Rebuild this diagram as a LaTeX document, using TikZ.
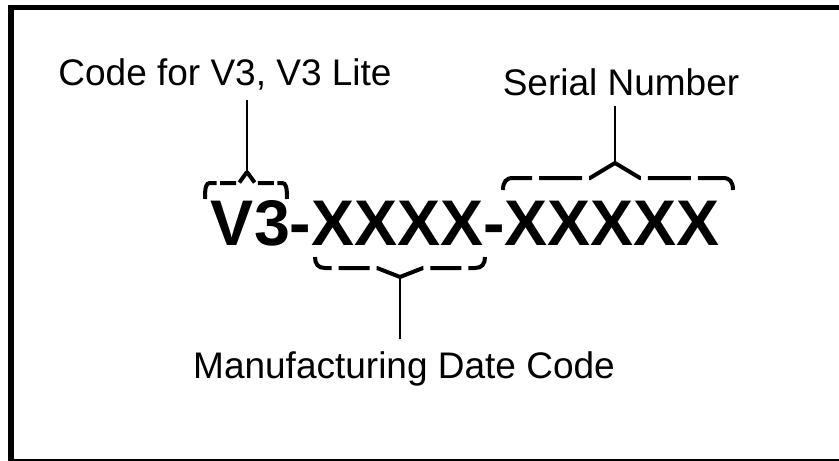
\documentclass[tikz,border=0pt]{standalone}
\usepackage{fontspec}
\newfontfamily\labelfont{Liberation Sans}
\tikzset{
  caption/.style={font=\labelfont\fontsize{37}{44}\selectfont, inner sep=0pt, anchor=base},
  bracket/.style={line width=4pt, dash pattern=#1},
  tick/.style={line width=2.2pt}
}
\begin{document}
\begin{tikzpicture}[x=1pt,y=-1pt]
\useasboundingbox (0,0) rectangle (839,461);
\clip (0,0) rectangle (839,461);
\draw[line width=5.8pt] (11,7.5) rectangle (845,461.5);

\node[font=\labelfont\bfseries\fontsize{64.5}{72}\selectfont, inner sep=0pt, anchor=base] (code) at (465.5,245) {V3-XXXX-XXXXX};

\node[caption] (model) at (225,85) {Code for V3, V3 Lite};
\node[caption] (serial) at (621,95) {Serial Number};
\node[caption] (date) at (404,378.5) {Manufacturing Date Code};

% brace over V3
\coordinate (mpeak) at (247,172);
\draw[bracket={on 13pt off 3.5pt on 16pt off 3.5pt on 40pt}] (mpeak) -- (239,183) -- (210,183) .. controls (206,183) and (205,187) .. (205,199);
\draw[bracket={on 13pt off 3.5pt on 16pt off 3.5pt on 40pt}] (mpeak) -- (255,183) -- (282,183) .. controls (286,183) and (287,187) .. (287,199);

% brace over serial
\coordinate (speak) at (615,163);
\draw[bracket={on 30pt off 7pt on 43pt off 7pt on 60pt}] (speak) -- (590,178) -- (513,178) .. controls (506,178) and (503,182) .. (503,190);
\draw[bracket={on 30pt off 7pt on 43pt off 7pt on 60pt}] (speak) -- (640,178) -- (723,178) .. controls (730,178) and (733,182) .. (733,190);

% brace under date
\coordinate (dpeak) at (400,277);
\draw[bracket={on 25pt off 7pt on 31pt off 7pt on 50pt}] (dpeak) -- (377,268) -- (325,268) .. controls (318,268) and (315,264) .. (315,257);
\draw[bracket={on 25pt off 7pt on 31pt off 7pt on 50pt}] (dpeak) -- (423,268) -- (475,268) .. controls (482,268) and (485,264) .. (485,257);

\draw[tick, shorten <=10pt] (model.south -| mpeak) -- (mpeak);
\draw[tick, shorten <=10pt] (serial.south -| speak) -- (speak);
\draw[tick, shorten <=12pt] (date.north -| dpeak) -- (dpeak);
\end{tikzpicture}
\end{document}
